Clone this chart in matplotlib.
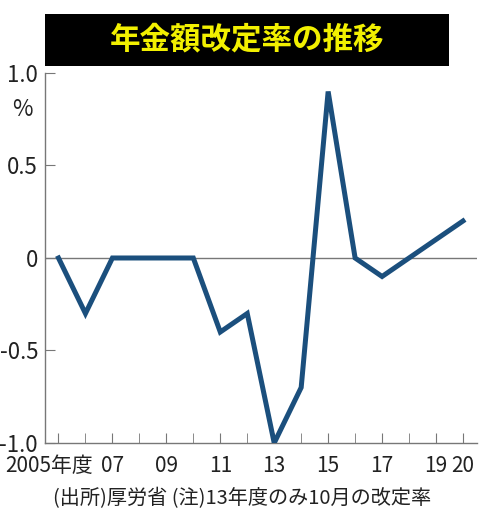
import matplotlib.pyplot as plt
from matplotlib.transforms import ScaledTranslation

plt.rcParams['font.family'] = ['Noto Sans CJK JP', 'DejaVu Sans']

# data
years = [2005, 2006, 2007, 2008, 2009, 2010, 2011, 2012,
         2013, 2014, 2015, 2016, 2017, 2018, 2019, 2020]
rates = [0, -0.3, 0, 0, 0, 0, -0.4, -0.3,
         -1.0, -0.7, 0.9, 0, -0.1, 0, 0.1, 0.2]
xtick_years = [2005, 2007, 2009, 2011, 2013, 2015, 2017, 2019, 2020]
xtick_labels = ['2005年度', '07', '09', '11', '13', '15', '17', '19', '20']
yticks = [-1.0, -0.5, 0, 0.5, 1.0]
ytick_labels = ['-1.0', '-0.5', '0', '0.5', '1.0']

title = '年金額改定率の推移'
note = '(出所)厚労省 (注)13年度のみ10月の改定率'

fig = plt.figure(figsize=(5.0, 5.24), dpi=100)
ax = fig.add_axes([0.09, 0.1546, 0.864, 0.7061])

ax.axhline(0, color='#777777', lw=1.0, zorder=1)
ax.plot(years, rates, color='#1b4f7d', lw=3.6, solid_joinstyle='miter', zorder=3)

ax.set_xlim(2004.5, 2020.52)
ax.set_ylim(-1.0, 1.0)
ax.set_xticks(years, minor=True)
ax.set_xticks(xtick_years)
ax.set_xticklabels(xtick_labels)
ax.set_yticks(yticks)
ax.set_yticklabels(ytick_labels)

for side in ['top', 'right']:
    ax.spines[side].set_visible(False)
for side in ['left', 'bottom']:
    ax.spines[side].set_color('#777777')
    ax.spines[side].set_linewidth(1.0)

ax.tick_params(axis='both', which='both', direction='in', color='#777777',
               labelcolor='#222222')
ax.tick_params(axis='x', which='both', length=7, pad=9, labelsize=15)
ax.tick_params(axis='y', length=7, pad=5, labelsize=16)

# the long first label is squeezed in the original; shift it a bit left
first = ax.get_xticklabels()[0]
first.set_transform(first.get_transform()
                    + ScaledTranslation(-7 / 72, 0, fig.dpi_scale_trans))

ax.text(-0.053, 0.9, '%', transform=ax.transAxes, fontsize=16,
        ha='center', va='center', color='#222222')

# black title box with yellow text
fig.patches.append(plt.Rectangle((0.09, 0.874), 0.808, 0.099,
                                 transform=fig.transFigure, facecolor='black',
                                 edgecolor='none', zorder=-1))
fig.text(0.494, 0.924, title, ha='center', va='center', fontsize=22,
         fontweight='bold', color='#f2f000')

fig.text(0.485, 0.049, note, ha='center', va='center', fontsize=14.5,
         color='#222222')

fig.savefig('out.png', dpi=100)
